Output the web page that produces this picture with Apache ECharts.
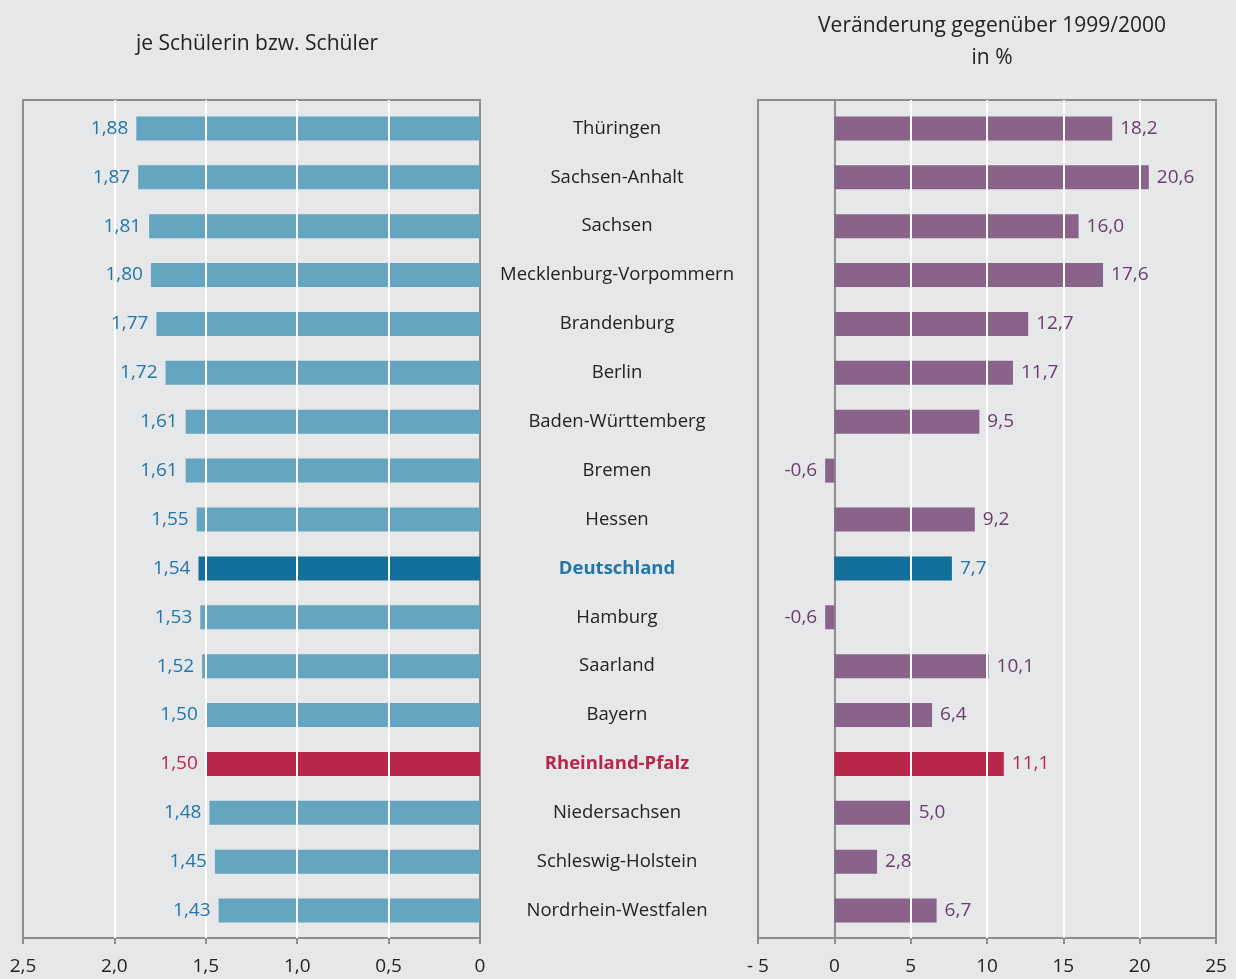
<!DOCTYPE html>
<html>
<head>
<meta charset="utf-8">
<script src="https://cdn.jsdelivr.net/npm/echarts@6/dist/echarts.min.js"></script>
<style>
html,body{margin:0;padding:0;background:#e6e7e9;}
#c{width:1236px;height:979px;}
</style>
</head>
<body>
<div id="c"></div>
<script>
const categories = ["Thüringen","Sachsen-Anhalt","Sachsen","Mecklenburg-Vorpommern","Brandenburg","Berlin","Baden-Württemberg","Bremen","Hessen","Deutschland","Hamburg","Saarland","Bayern","Rheinland-Pfalz","Niedersachsen","Schleswig-Holstein","Nordrhein-Westfalen"];
const perStudent = [1.88,1.87,1.81,1.80,1.77,1.72,1.61,1.61,1.55,1.54,1.53,1.52,1.50,1.50,1.48,1.45,1.43];
const changePct = [18.2,20.6,16.0,17.6,12.7,11.7,9.5,-0.6,9.2,7.7,-0.6,10.1,6.4,11.1,5.0,2.8,6.7];
const leftGridValues = [0.5,1.0,1.5,2.0];
const rightGridValues = [5,10,15,20];

const FONT = '"Open Sans", "Noto Sans", sans-serif';
const GREY = '#8e8e8e';
const C = {
  lightBlue:'#64a5c0', darkBlue:'#136f9c', red:'#b8274a', purple:'#89638a',
  blueText:'#2276a8', purpleText:'#6a3d6e', redText:'#b8274a'
};
function isDE(n){return n==='Deutschland';}
function isRP(n){return n==='Rheinland-Pfalz';}

const leftBars = perStudent.map((v,i)=>{
  const n = categories[i];
  return {value:v, itemStyle:{color: isDE(n)?C.darkBlue:isRP(n)?C.red:C.lightBlue}};
});
const leftLabels = perStudent.map((v,i)=>{
  const n = categories[i];
  return {value:v, label:{color: isRP(n)?C.redText:C.blueText}};
});
const rightBars = changePct.map((v,i)=>{
  const n = categories[i];
  return {value:v, itemStyle:{color: isDE(n)?C.darkBlue:isRP(n)?C.red:C.purple}};
});
const rightLabels = changePct.map((v,i)=>{
  const n = categories[i];
  return {value:v, label:{color: isDE(n)?C.blueText:isRP(n)?C.redText:C.purpleText, position: v<0?'left':'right'}};
});

const whiteLines = (vals)=>({
  silent:true, symbol:['none','none'], animation:false, z:3,
  label:{show:false},
  lineStyle:{color:'#ffffff', width:2, type:'solid'},
  emphasis:{disabled:true},
  data: vals.map(v=>({xAxis:v}))
});

const hiddenX = (g, min, max, inv)=>({gridIndex:g, type:'value', min:min, max:max, inverse:!!inv, show:false, splitLine:{show:false}});

const chart = echarts.init(document.getElementById('c'), null, {renderer:'canvas'});
chart.setOption({
  backgroundColor:'#e6e7e9',
  animation:false,
  title:[
    {text:'je Schülerin bzw. Schüler', left:252, top:29, textAlign:'center',
     textStyle:{fontFamily:FONT, fontSize:21, fontWeight:'normal', color:'#222'}},
    {text:'Veränderung gegenüber 1999/2000\nin %', left:987, top:5, textAlign:'center',
     textStyle:{fontFamily:FONT, fontSize:21, fontWeight:'normal', color:'#222', lineHeight:32}}
  ],
  grid:[
    // data grids (category band slightly inset)
    {left:23, width:457, top:104, height:831, show:false, containLabel:false},
    {left:758, width:458, top:104, height:831, show:false, containLabel:false},
    // frame grids
    {left:23, width:457, top:100, height:838, show:true, borderColor:GREY, borderWidth:2, backgroundColor:'transparent', containLabel:false},
    {left:758, width:458, top:100, height:838, show:true, borderColor:GREY, borderWidth:2, backgroundColor:'transparent', containLabel:false}
  ],
  xAxis:[
    hiddenX(0, 0, 2.5, true),
    hiddenX(1, -5, 25),
    {gridIndex:2, type:'value', min:0, max:2.5, interval:0.5, inverse:true,
     axisLine:{show:true, lineStyle:{color:GREY, width:2}},
     axisTick:{show:true, length:6, lineStyle:{color:GREY, width:2}},
     splitLine:{show:false},
     axisLabel:{margin:19, fontFamily:FONT, fontSize:19, color:'#222',
       formatter:v=>v===0?'0':v.toFixed(1).replace('.',',')}},
    {gridIndex:3, type:'value', min:-5, max:25, interval:5,
     axisLine:{show:true, onZero:false, lineStyle:{color:GREY, width:2}},
     axisTick:{show:true, length:6, lineStyle:{color:GREY, width:2}},
     splitLine:{show:false},
     axisLabel:{margin:19, fontFamily:FONT, fontSize:19, color:'#222',
       formatter:v=>v<0?('- '+Math.abs(v)):String(v)}}
  ],
  yAxis:[
    {gridIndex:0, type:'category', data:categories, inverse:true, position:'right',
     axisLine:{show:false}, axisTick:{show:false},
     axisLabel:{margin:137, align:'center', fontFamily:FONT, fontSize:18.5, color:'#222',
       formatter:n=>isDE(n)?'{de|'+n+'}':isRP(n)?'{rp|'+n+'}':n,
       rich:{
         de:{fontFamily:FONT, fontSize:18.5, fontWeight:'bold', color:C.blueText},
         rp:{fontFamily:FONT, fontSize:18.5, fontWeight:'bold', color:C.redText}
       }}},
    {gridIndex:1, type:'category', data:categories, inverse:true, show:false},
    {gridIndex:2, type:'category', data:categories, inverse:true, show:false},
    {gridIndex:3, type:'category', data:categories, inverse:true,
     axisLine:{show:true, onZero:true, lineStyle:{color:GREY, width:2}},
     axisTick:{show:false}, axisLabel:{show:false}}
  ],
  series:[
    {type:'bar', xAxisIndex:0, yAxisIndex:0, data:leftBars, barWidth:24, barGap:'-100%', z:2,
     label:{show:false}},
    {type:'bar', xAxisIndex:0, yAxisIndex:0, data:leftLabels, barWidth:24, barGap:'-100%', z:10,
     itemStyle:{color:'rgba(0,0,0,0)'}, silent:true,
     label:{show:true, position:'left', distance:8, fontFamily:FONT, fontSize:19,
       formatter:p=>p.value.toFixed(2).replace('.',',')}},
    {type:'bar', xAxisIndex:1, yAxisIndex:1, data:rightBars, barWidth:24, barGap:'-100%', z:2,
     label:{show:false}},
    {type:'bar', xAxisIndex:1, yAxisIndex:1, data:rightLabels, barWidth:24, barGap:'-100%', z:10,
     itemStyle:{color:'rgba(0,0,0,0)'}, silent:true,
     label:{show:true, distance:8, fontFamily:FONT, fontSize:19,
       formatter:p=>p.value.toFixed(1).replace('.',',')}},
    // gridlines drawn above the bars, spanning the full frame height
    {type:'bar', xAxisIndex:2, yAxisIndex:2, data:[], silent:true, z:3,
     markLine: whiteLines(leftGridValues)},
    {type:'bar', xAxisIndex:3, yAxisIndex:3, data:[], silent:true, z:3,
     markLine: whiteLines(rightGridValues)}
  ]
});
</script>
</body>
</html>
